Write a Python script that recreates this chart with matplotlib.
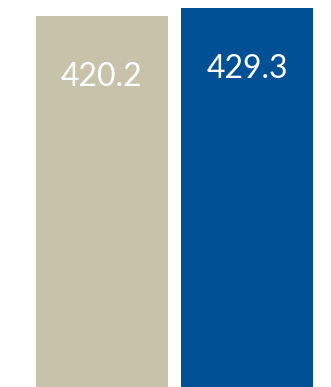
import matplotlib.pyplot as plt

# Значення стовпців
categories = ['A', 'B']
values = [420.2, 429.3]
labels = ['420.2', '429.3']
colors = ['#c8c2aa', '#005096']

fig = plt.figure(figsize=(3.31, 3.87), dpi=100)
ax = fig.add_axes([0, 0, 1, 1])

pos = list(range(len(categories)))
bars = ax.bar(pos, values, width=0.91, color=colors)

for b, lab in zip(bars, labels):
    ax.annotate(lab, (b.get_x() + b.get_width() / 2, b.get_height()),
                xytext=(0, -50.4), textcoords='offset points',
                ha='center', va='baseline', color='white',
                fontsize=23, family=['Lato', 'DejaVu Sans'])

ax.set_xlim(-0.703, 1.579)
ax.set_ylim(0, 438.4)
ax.axis('off')

fig.savefig('out.png', dpi=100)
